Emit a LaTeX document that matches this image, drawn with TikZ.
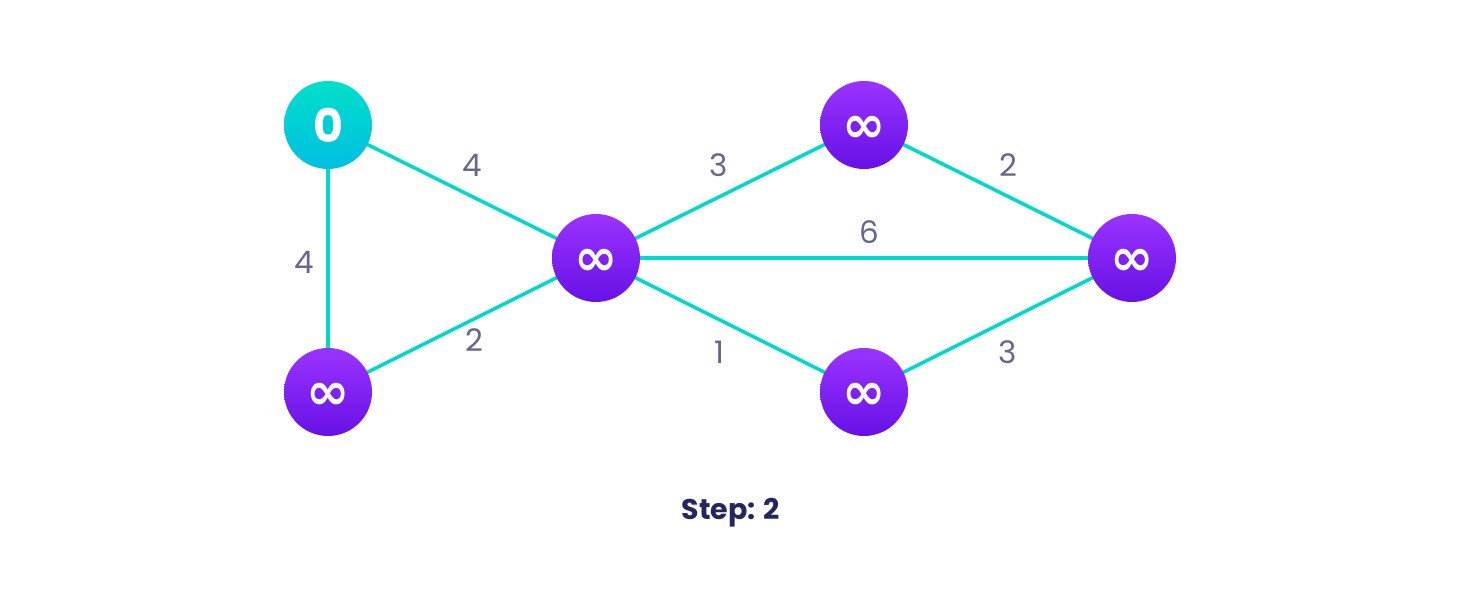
\documentclass[tikz,border=0pt]{standalone}
\usepackage{fontspec}
\setmainfont{Poppins}
\newfontfamily\symfont{DejaVu Sans Bold}
\definecolor{edgec}{HTML}{00D9C9}
\definecolor{lblc}{HTML}{66668F}
\definecolor{stepc}{HTML}{25265E}
\definecolor{tealtop}{HTML}{00E0CA}
\definecolor{tealbot}{HTML}{00BEE2}
\definecolor{purtop}{HTML}{9A33FF}
\definecolor{purbot}{HTML}{6711E6}
\newcommand{\infsym}{\raisebox{-4pt}[\height][\depth]{∞}}
\tikzset{
  vbase/.style={circle, minimum size=88pt, inner sep=0pt, text=white},
  startv/.style={vbase, top color=tealtop, bottom color=tealbot, font=\bfseries\fontsize{46}{46}\selectfont},
  infv/.style={vbase, top color=purtop, bottom color=purbot, font=\symfont\fontsize{52}{52}\selectfont},
  edge/.style={draw=edgec, line width=3.5pt},
  wlabel/.style={text=lblc, font=\fontsize{31}{31}\selectfont, inner sep=0pt},
}
\begin{document}
\begin{tikzpicture}[x=1pt,y=1pt]
\useasboundingbox (0,0) rectangle (1460,612);
\coordinate (A0) at (328,487);
\coordinate (B0) at (328,220);
\coordinate (C0) at (596,354);
\coordinate (D0) at (864,487);
\coordinate (E0) at (864,220);
\coordinate (F0) at (1132,354);
% edges first
\draw[edge] (A0) -- (B0);
\draw[edge] (A0) -- (C0);
\draw[edge] (B0) -- (C0);
\draw[edge] (C0) -- (D0);
\draw[edge] (C0) -- (F0);
\draw[edge] (C0) -- (E0);
\draw[edge] (D0) -- (F0);
\draw[edge] (E0) -- (F0);
% vertices
\node[startv] (A) at (A0) {0};
\node[infv] (B) at (B0) {\infsym};
\node[infv] (C) at (C0) {\infsym};
\node[infv] (D) at (D0) {\infsym};
\node[infv] (E) at (E0) {\infsym};
\node[infv] (F) at (F0) {\infsym};
% weights
\node[wlabel] (wAC) at (472,447) {4};
\node[wlabel] (wAB) at (304,350) {4};
\node[wlabel] (wBC) at (474,272) {2};
\node[wlabel] (wCD) at (719,447) {3};
\node[wlabel] (wCF) at (869,380) {6};
\node[wlabel] (wCE) at (719,260) {1};
\node[wlabel] (wDF) at (1008,447) {2};
\node[wlabel] (wEF) at (1008,260) {3};
% caption
\node[text=stepc, font=\bfseries\fontsize{28.5}{28.5}\selectfont] (step) at (731,99) {Step: 2};
\end{tikzpicture}
\end{document}
